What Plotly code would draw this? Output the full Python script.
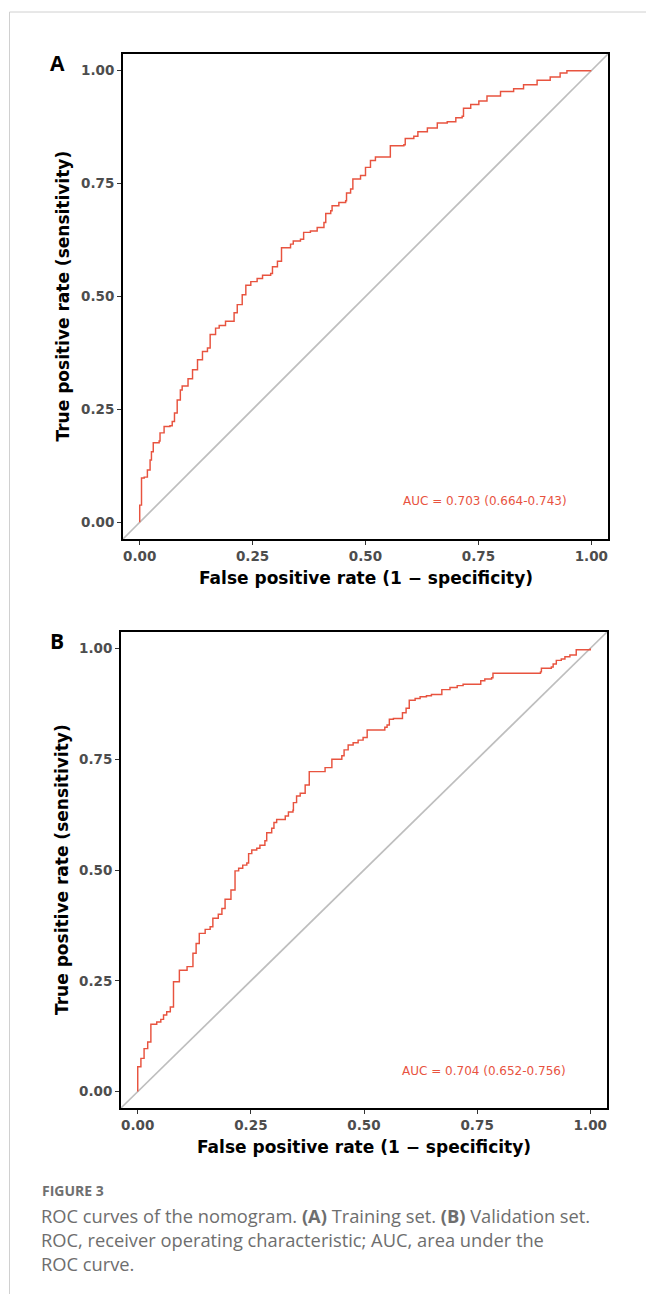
import plotly.graph_objects as go

# ---- ROC data -------------------------------------------------------------
# Training set (panel A): false positive rate / true positive rate
train_fpr = [0, 0, 0.004, 0.01, 0.017, 0.023, 0.026, 0.03, 0.043, 0.045, 0.054,
             0.067, 0.072, 0.077, 0.083, 0.09, 0.094, 0.107, 0.117, 0.128, 0.139,
             0.15, 0.156, 0.168, 0.176, 0.19, 0.209, 0.216, 0.227, 0.235, 0.246,
             0.26, 0.272, 0.29, 0.294, 0.305, 0.314, 0.334, 0.34, 0.356, 0.363,
             0.378, 0.393, 0.408, 0.412, 0.423, 0.426, 0.441, 0.456, 0.458, 0.467,
             0.472, 0.489, 0.5, 0.511, 0.522, 0.555, 0.585, 0.588, 0.607, 0.616,
             0.637, 0.659, 0.681, 0.7, 0.714, 0.717, 0.733, 0.751, 0.769, 0.799,
             0.828, 0.85, 0.88, 0.909, 0.931, 0.946, 1.0]
train_tpr = [0, 0.038, 0.098, 0.10, 0.116, 0.138, 0.156, 0.176, 0.18, 0.198, 0.212,
             0.214, 0.223, 0.242, 0.271, 0.293, 0.302, 0.318, 0.338, 0.36, 0.378,
             0.386, 0.416, 0.43, 0.436, 0.445, 0.464, 0.482, 0.504, 0.525, 0.533,
             0.54, 0.547, 0.551, 0.566, 0.578, 0.608, 0.616, 0.623, 0.627, 0.642,
             0.645, 0.653, 0.664, 0.684, 0.69, 0.701, 0.708, 0.712, 0.729, 0.738,
             0.76, 0.768, 0.786, 0.801, 0.809, 0.834, 0.836, 0.85, 0.855, 0.865,
             0.873, 0.884, 0.887, 0.896, 0.899, 0.917, 0.925, 0.933, 0.944, 0.954,
             0.96, 0.969, 0.979, 0.986, 0.995, 1.0, 1.0]

# Validation set (panel B)
valid_fpr = [0, 0, 0.007, 0.014, 0.022, 0.029, 0.042, 0.051, 0.057, 0.064, 0.072,
             0.079, 0.092, 0.109, 0.122, 0.129, 0.136, 0.149, 0.16, 0.166, 0.178,
             0.186, 0.193, 0.206, 0.215, 0.223, 0.232, 0.241, 0.245, 0.252, 0.263,
             0.27, 0.281, 0.285, 0.296, 0.301, 0.307, 0.326, 0.333, 0.343, 0.344,
             0.351, 0.359, 0.37, 0.379, 0.414, 0.429, 0.451, 0.456, 0.465, 0.476,
             0.487, 0.498, 0.507, 0.546, 0.551, 0.556, 0.565, 0.585, 0.593, 0.6,
             0.613, 0.624, 0.638, 0.649, 0.672, 0.69, 0.706, 0.719, 0.758, 0.767,
             0.782, 0.785, 0.89, 0.892, 0.914, 0.918, 0.925, 0.936, 0.944, 0.955,
             0.969, 1.0]
valid_tpr = [0, 0.056, 0.075, 0.097, 0.112, 0.152, 0.157, 0.163, 0.173, 0.18, 0.191,
             0.248, 0.274, 0.282, 0.312, 0.334, 0.357, 0.366, 0.372, 0.391, 0.4,
             0.413, 0.434, 0.455, 0.498, 0.504, 0.511, 0.516, 0.537, 0.545, 0.549,
             0.556, 0.566, 0.584, 0.594, 0.607, 0.614, 0.622, 0.631, 0.635, 0.652,
             0.667, 0.673, 0.692, 0.722, 0.731, 0.75, 0.758, 0.771, 0.782, 0.787,
             0.793, 0.799, 0.816, 0.822, 0.827, 0.84, 0.842, 0.855, 0.865, 0.883,
             0.887, 0.891, 0.893, 0.896, 0.907, 0.912, 0.916, 0.919, 0.927, 0.931,
             0.934, 0.944, 0.947, 0.955, 0.958, 0.965, 0.973, 0.976, 0.981, 0.985,
             0.997, 1.0]

tick_vals = [0, 0.25, 0.5, 0.75, 1.0]
tick_text = ["0.00", "0.25", "0.50", "0.75", "1.00"]
auc_labels = ["AUC = 0.703 (0.664-0.743)", "AUC = 0.704 (0.652-0.756)"]
panel_tags = ["A", "B"]
x_title = "False positive rate (1 \u2212 specificity)"
y_title = "True positive rate (sensitivity)"
caption_head = "FIGURE 3"
caption_lines = [
    "ROC curves of the nomogram. <b>(A)</b> Training set. <b>(B)</b> Validation set.",
    "ROC, receiver operating characteristic; AUC, area under the",
    "ROC curve.",
]

# ---- page geometry (pixels) ----------------------------------------------
W, H = 646, 1294
RED = "#E8533F"
AX_RANGE = [-0.037, 1.037]


def px(x):
    return x / W


def py(y):
    return 1 - y / H


# panel boxes: (left, right, top, bottom) in pixels
boxes = [(123, 608, 54, 539), (121, 607, 632, 1108)]

fig = go.Figure()

curves = [(train_fpr, train_tpr), (valid_fpr, valid_tpr)]
for i, (fx, ty) in enumerate(curves):
    sfx = "" if i == 0 else "2"
    fig.add_trace(go.Scatter(
        x=fx, y=ty, mode="lines",
        line=dict(color=RED, width=1.45, shape="hv"),
        xaxis="x" + sfx, yaxis="y" + sfx, showlegend=False, hoverinfo="skip",
    ))

axis_common = dict(
    range=AX_RANGE, tickvals=tick_vals, ticktext=tick_text,
    ticks="outside", ticklen=4, tickwidth=1.1, tickcolor="#333333",
    tickfont=dict(family="DejaVu Sans", size=13.5, color="#4D4D4D", weight="bold"),
    showgrid=False, zeroline=False, showline=True, mirror=True,
    linecolor="#000000", linewidth=2, fixedrange=True,
)

layout_axes = {}
for i, (l, r, t, b) in enumerate(boxes):
    sfx = "" if i == 0 else "2"
    layout_axes["xaxis" + sfx] = dict(
        axis_common, domain=[px(l), px(r)], anchor="y" + sfx)
    layout_axes["yaxis" + sfx] = dict(
        axis_common, domain=[py(b), py(t)], anchor="x" + sfx)

shapes = []
annotations = []
for i, (l, r, t, b) in enumerate(boxes):
    sfx = "" if i == 0 else "2"
    # chance diagonal across the whole panel
    shapes.append(dict(
        type="line", xref="x" + sfx + " domain", yref="y" + sfx + " domain",
        x0=0, y0=0, x1=1, y1=1, line=dict(color="#BEBEBE", width=1.7), layer="below",
    ))
    # AUC label
    annotations.append(dict(
        x=0.765, y=0.047, xref="x" + sfx, yref="y" + sfx, text=auc_labels[i],
        showarrow=False, xanchor="center", yanchor="middle",
        font=dict(family="DejaVu Sans", size=12, color=RED),
    ))
    # axis titles
    annotations.append(dict(
        x=px((l + r) / 2), y=py(b + 39), xref="paper", yref="paper", text=x_title,
        showarrow=False, xanchor="center", yanchor="middle",
        font=dict(family="DejaVu Sans", size=17, color="#000000", weight="bold"),
    ))
    annotations.append(dict(
        x=px(62), y=py((t + b) / 2), xref="paper", yref="paper", text=y_title,
        showarrow=False, textangle=-90, xanchor="center", yanchor="middle",
        font=dict(family="DejaVu Sans", size=17, color="#000000", weight="bold"),
    ))
    # panel tag
    annotations.append(dict(
        x=px(57), y=py(t + 9), xref="paper", yref="paper", text=panel_tags[i],
        showarrow=False, xanchor="center", yanchor="middle",
        font=dict(family="Open Sans", size=21, color="#000000", weight="bold"),
    ))

# caption
annotations.append(dict(
    x=px(40), y=py(1190), xref="paper", yref="paper", text=caption_head,
    showarrow=False, xanchor="left", yanchor="middle",
    font=dict(family="Open Sans", size=14, color="#707070", weight="bold"),
))
for k, line in enumerate(caption_lines):
    annotations.append(dict(
        x=px(39), y=py(1215 + 24 * k), xref="paper", yref="paper", text=line,
        showarrow=False, xanchor="left", yanchor="middle",
        font=dict(family="Open Sans", size=18.3, color="#6E6E6E"),
    ))

# page frame lines
shapes.append(dict(type="line", xref="paper", yref="paper",
                   x0=px(9.5), x1=1, y0=py(12), y1=py(12),
                   line=dict(color="#D0D0D0", width=1)))
shapes.append(dict(type="line", xref="paper", yref="paper",
                   x0=px(9.5), x1=px(9.5), y0=py(12), y1=0,
                   line=dict(color="#D0D0D0", width=1)))

fig.update_layout(
    width=W, height=H, margin=dict(l=0, r=0, t=0, b=0),
    paper_bgcolor="white", plot_bgcolor="white",
    shapes=shapes, annotations=annotations, showlegend=False,
    **layout_axes,
)

fig.write_html("out.html", config={"displayModeBar": False})
